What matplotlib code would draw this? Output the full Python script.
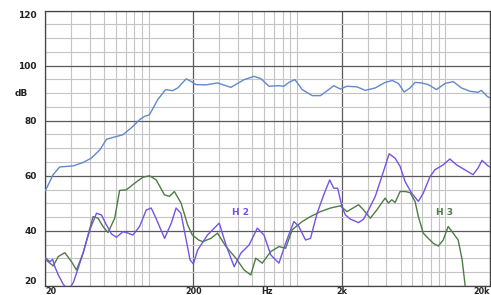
import numpy as np
import matplotlib
matplotlib.use("Agg")
import matplotlib.pyplot as plt

# frequency response (blue), Hz / dB
fr_hz = [20, 20.5, 22.7, 25.1, 31, 36, 41, 47, 52, 59, 67, 76, 87, 94, 101, 115, 130,
         145, 157, 179, 197, 208, 243, 291, 358, 440, 513, 569, 647, 755, 816, 881,
         968, 1084, 1264, 1439, 1636, 1768, 1960, 2172, 2534, 2884, 3368, 3929, 4398,
         4828, 5272, 5782, 6250, 6920, 7672, 8720, 9932, 11290, 12830, 14620, 16600,
         17480, 19180, 20000]
fr_db = [54.5, 55.5, 60.4, 63.2, 63.6, 64.8, 66.4, 69.5, 73.3, 74.1, 74.9, 77.3, 80.4,
         81.6, 82.1, 87.6, 91.3, 90.9, 91.9, 95.2, 94.0, 93.1, 93.0, 93.7, 92.1, 94.9,
         96.1, 95.3, 92.5, 92.7, 92.5, 93.9, 94.9, 91.3, 89.1, 89.1, 91.3, 92.7, 91.5,
         92.5, 92.3, 91.0, 91.9, 93.9, 94.6, 93.5, 90.4, 91.9, 93.9, 93.7, 93.1, 91.3,
         93.5, 94.2, 91.9, 90.7, 90.3, 91.0, 88.8, 88.3]

# 2nd harmonic (purple)
h2_hz = [20, 20.3, 21.6, 22.5, 23.3, 24.6, 26.5, 28.7, 31.0, 32.6, 36.1, 40.1, 44.5,
         48.0, 51.9, 56.1, 60.6, 67.1, 72.5, 78.3, 86.8, 96.3, 104, 112, 128, 142, 153,
         165, 179, 190, 200, 214, 249, 291, 299, 332, 377, 418, 475, 540, 599, 665, 755,
         838, 953, 1029, 1141, 1233, 1366, 1514, 1661, 1768, 1880, 2009, 2118, 2287,
         2600, 2811, 3036, 3368, 3729, 4180, 4582, 4956, 5353, 5929, 6576, 7097, 7876,
         8514, 9678, 10730, 11880, 13520, 15380, 16600, 17670, 19400, 20000]
h2_db = [30.3, 30.1, 28.8, 29.7, 27.0, 24.0, 20.7, 18.5, 21.2, 24.6, 31.9, 40.4, 46.4,
         45.8, 42.2, 38.9, 37.7, 39.7, 39.2, 38.5, 41.6, 47.6, 48.3, 44.6, 37.3, 42.8,
         48.3, 46.4, 36.7, 29.5, 28.0, 33.1, 38.5, 42.2, 42.8, 34.9, 27.0, 31.9, 34.9,
         41.0, 38.5, 31.3, 28.3, 35.5, 43.4, 41.6, 36.7, 37.3, 46.4, 53.1, 58.5, 55.5,
         55.5, 48.8, 45.8, 44.3, 43.0, 44.3, 47.6, 52.5, 59.7, 68.0, 66.4, 63.4, 57.9,
         53.7, 50.7, 53.7, 59.7, 62.2, 64.0, 66.1, 64.0, 62.2, 60.4, 62.8, 65.6, 63.6,
         63.2]

# 3rd harmonic (green)
h3_hz = [20, 20.3, 22.7, 24.6, 27.2, 30.2, 32.6, 36.1, 42.2, 45.6, 49.2, 53.2, 59.0,
         63.7, 70.7, 80.4, 91.4, 101.4, 112.4, 127.7, 138, 149, 165.3, 183, 197, 217,
         231, 263, 291, 332, 387, 440, 488, 527, 583, 665, 755, 838, 928, 1084, 1233,
         1439, 1679, 1960, 2172, 2600, 2811, 3118, 3451, 3929, 4133, 4352, 4582, 4956,
         5353, 5782, 6250, 6576, 7097, 7672, 8289, 8953, 9678, 10450, 11290, 12200,
         12980, 13740]
h3_db = [30.0, 29.5, 27.3, 30.7, 32.1, 28.8, 25.8, 31.9, 45.2, 44.6, 41.6, 39.4, 44.6,
         54.7, 54.9, 57.3, 59.5, 60.0, 58.5, 53.1, 52.5, 54.3, 50.1, 42.2, 38.5, 36.7,
         36.1, 37.3, 39.2, 34.3, 30.1, 25.8, 24.0, 30.1, 28.3, 32.5, 34.3, 33.7, 40.4,
         43.4, 45.2, 47.0, 48.3, 49.1, 47.0, 49.5, 47.6, 44.6, 47.6, 51.9, 50.1, 51.3,
         50.3, 54.3, 54.3, 53.9, 50.7, 45.2, 39.2, 37.3, 35.5, 34.5, 36.7, 41.6, 39.2,
         36.7, 29.5, 18.0]

x_ticks = [20, 200, 2000, 20000]
x_labels = ["20", "200", "2k", "20k"]
y_ticks = [20, 40, 60, 80, 100, 120]

BLUE, PURPLE, GREEN = "#6089cf", "#7652e6", "#4d7d45"
TXT = dict(fontsize=6.5, fontweight="bold", color="#222222")
XTXT = dict(fontsize=5.8, fontweight="bold", color="#222222")

fig = plt.figure(figsize=(4.91, 2.95), dpi=100)
ax = fig.add_axes([45 / 491, 9 / 295, 445 / 491, 275.5 / 295])
ax.set_xscale("log")
ax.set_xlim(20, 20000)
ax.set_ylim(20, 120)

kw = dict(lw=1.0, solid_joinstyle="round", solid_capstyle="round")
ax.plot(fr_hz, fr_db, color=BLUE, zorder=3, **kw)
ax.plot(h3_hz, h3_db, color=GREEN, zorder=3, **kw)
ax.plot(h2_hz, h2_db, color=PURPLE, zorder=4, **kw)

# grid: dark at 20/200/2k/20k and every 20 dB, light elsewhere
ax.set_xticks(x_ticks)
ax.set_xticklabels(x_labels, **XTXT)
ax.set_xticks([m * 10 ** k for k in (1, 2, 3) for m in range(3, 11)], minor=True)
ax.set_yticks(y_ticks)
ax.set_yticklabels([str(v) for v in y_ticks], **TXT)
ax.set_yticks(np.arange(20, 121, 5), minor=True)
ax.xaxis.set_minor_formatter(matplotlib.ticker.NullFormatter())
ax.grid(which="minor", color="#c4c4c4", lw=0.8, zorder=0)
ax.grid(which="major", color="#5a5a5a", lw=0.9, zorder=1)
ax.tick_params(which="both", length=0)
ax.tick_params(axis="x", pad=0.5)
ax.tick_params(axis="y", pad=6)
for s in ax.spines.values():
    s.set_color("#444444")
    s.set_linewidth(0.9)

xl = ax.get_xticklabels()
xl[0].set_ha("left")
xl[-1].set_ha("right")
yl = ax.get_yticklabels()
yl[0].set_va("bottom")
yl[-1].set_va("top")

ax.text(630, -0.002, "Hz", transform=ax.get_xaxis_transform(), ha="center", va="top", **XTXT)
fig.text(21 / 491, 1 - 93 / 295, "dB", ha="center", va="center", **TXT)
ax.text(415, 46.5, "H 2", color=PURPLE, fontsize=6.5, fontweight="bold",
        ha="center", va="center")
ax.text(9900, 46.5, "H 3", color=GREEN, fontsize=6.5, fontweight="bold",
        ha="center", va="center")

fig.savefig("out.png", dpi=100)
